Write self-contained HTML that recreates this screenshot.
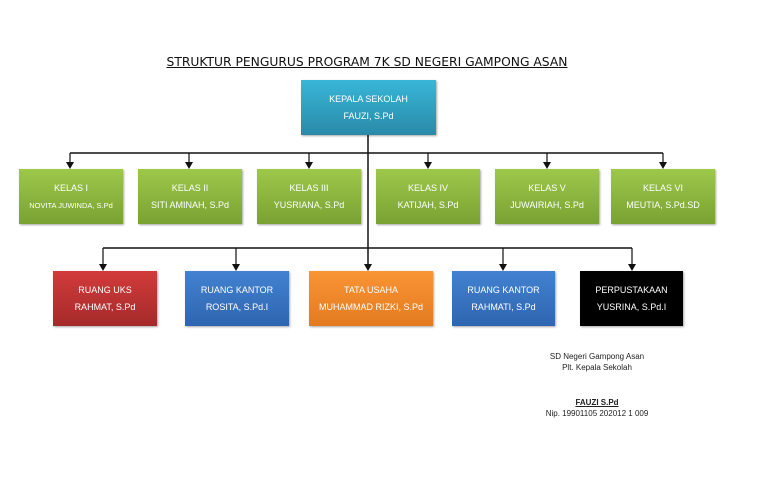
<!DOCTYPE html>
<html><head><meta charset="utf-8"><style>
body{margin:0;width:768px;height:477px;background:#fff;position:relative;overflow:hidden;font-family:"Liberation Sans",sans-serif}
.b{position:absolute;color:#fff;font-size:9px;text-align:center;display:flex;flex-direction:column;justify-content:center;line-height:17px;box-shadow:1px 1px 2px rgba(0,0,0,.35)}
.g{background:linear-gradient(#9dc84a,#79a232);top:169px;height:55px;width:104px}
.t{position:absolute;font-size:8px;color:#222;text-align:center;width:160px;left:517px}
</style></head><body>
<div style="position:absolute;left:150px;width:434px;top:55px;text-align:center;font-family:'DejaVu Sans',sans-serif;font-size:12.3px;text-decoration:underline;color:#111">STRUKTUR PENGURUS PROGRAM 7K SD NEGERI GAMPONG ASAN</div>
<svg width="768" height="477" style="position:absolute;left:0;top:0">
<defs><marker id="a" markerWidth="6" markerHeight="6" refX="3" refY="5" orient="auto" markerUnits="userSpaceOnUse"><path d="M0,0L6,0L3,6z" fill="#111" transform="rotate(-90 3 3)"/></marker></defs>
<g stroke="#111" stroke-width="1.5" fill="none">
<line x1="368" y1="135" x2="368" y2="270"/>
<line x1="70" y1="153" x2="663" y2="153"/>
<line x1="103" y1="248" x2="632" y2="248"/>
</g>
<g fill="#111">
<path d="M69.5,153v10h1v-10z"/>
</g>
<g stroke="#111" stroke-width="1.2">
<line x1="70" y1="153" x2="70" y2="163"/><line x1="189" y1="153" x2="189" y2="163"/><line x1="309" y1="153" x2="309" y2="163"/><line x1="428" y1="153" x2="428" y2="163"/><line x1="547" y1="153" x2="547" y2="163"/><line x1="663" y1="153" x2="663" y2="163"/>
<line x1="103" y1="248" x2="103" y2="265"/><line x1="236" y1="248" x2="236" y2="265"/><line x1="503" y1="248" x2="503" y2="265"/><line x1="632" y1="248" x2="632" y2="265"/>
</g>
<g fill="#111">
<path d="M66,162h8l-4,7z"/><path d="M185,162h8l-4,7z"/><path d="M305,162h8l-4,7z"/><path d="M424,162h8l-4,7z"/><path d="M543,162h8l-4,7z"/><path d="M659,162h8l-4,7z"/>
<path d="M99,264h8l-4,7z"/><path d="M232,264h8l-4,7z"/><path d="M364,264h8l-4,7z"/><path d="M499,264h8l-4,7z"/><path d="M628,264h8l-4,7z"/>
</g>
</svg>
<div class="b" style="left:301px;top:80px;width:135px;height:55px;background:linear-gradient(#38b6d8,#2a8aa8)">KEPALA SEKOLAH<br>FAUZI, S.Pd</div>
<div class="b g" style="left:19px">KELAS I<br><span style="font-size:7.5px">NOVITA JUWINDA, S.Pd</span></div>
<div class="b g" style="left:138px">KELAS II<br>SITI AMINAH, S.Pd</div>
<div class="b g" style="left:257px">KELAS III<br>YUSRIANA, S.Pd</div>
<div class="b g" style="left:376px">KELAS IV<br>KATIJAH, S.Pd</div>
<div class="b g" style="left:495px">KELAS V<br>JUWAIRIAH, S.Pd</div>
<div class="b g" style="left:611px">KELAS VI<br>MEUTIA, S.Pd.SD</div>
<div class="b" style="left:53px;top:271px;width:104px;height:55px;background:linear-gradient(#d23b3b,#a52a2a)">RUANG UKS<br>RAHMAT, S.Pd</div>
<div class="b" style="left:185px;top:271px;width:104px;height:55px;background:linear-gradient(#4282d0,#2f65b0)">RUANG KANTOR<br>ROSITA, S.Pd.I</div>
<div class="b" style="left:309px;top:271px;width:124px;height:55px;background:linear-gradient(#f99535,#e37a20)">TATA USAHA<br>MUHAMMAD RIZKI, S.Pd</div>
<div class="b" style="left:452px;top:271px;width:103px;height:55px;background:linear-gradient(#4282d0,#2f65b0)">RUANG KANTOR<br>RAHMATI, S.Pd</div>
<div class="b" style="left:580px;top:271px;width:103px;height:55px;background:#000">PERPUSTAKAAN<br>YUSRINA, S.Pd.I</div>
<div class="t" style="top:352px">SD Negeri Gampong Asan</div>
<div class="t" style="top:363px">Plt. Kepala Sekolah</div>
<div class="t" style="top:398px;font-weight:bold;text-decoration:underline">FAUZI S.Pd</div>
<div class="t" style="top:409px">Nip. 19901105 202012 1 009</div>
</body></html>
